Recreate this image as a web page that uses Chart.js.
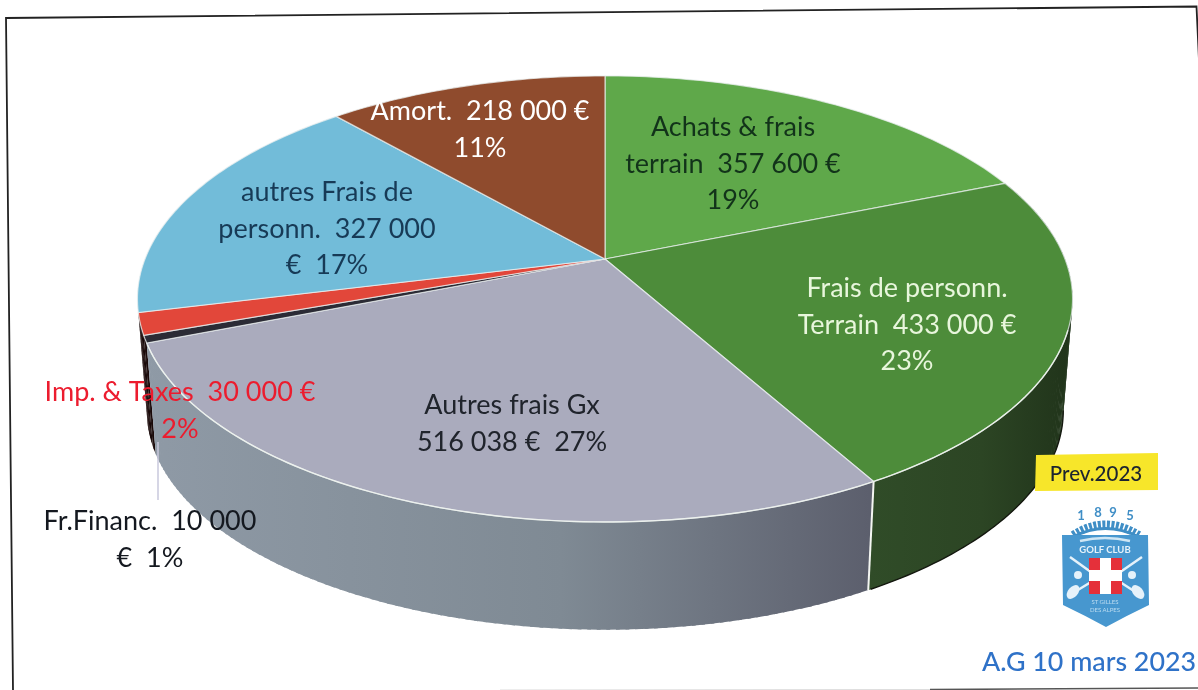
<!DOCTYPE html>
<html lang="fr">
<head>
<meta charset="utf-8">
<title>Prev. 2023</title>
<script src="https://cdn.jsdelivr.net/npm/chart.js@4"></script>
<style>
  html, body { margin: 0; padding: 0; background: #fff; overflow: hidden; }
  #page { position: relative; width: 1198px; height: 690px; filter: blur(0.45px); }
  #pie { position: absolute; left: 0; top: 0; }
  #deco { position: absolute; left: 0; top: 0; }
</style>
</head>
<body>
<div id="page">
  <canvas id="pie" width="1198" height="690"></canvas>
  <svg id="deco" width="1198" height="690" viewBox="0 0 1198 690" font-family="Lato, sans-serif">
    <!-- cadre scanne -->
    <path d="M1199 60 L1196.5 6.5 L6 18 L13 690" fill="none" stroke="#222" stroke-width="1.8"/>
    <path d="M930 689.5 L1198 688" fill="none" stroke="#555" stroke-width="1.6"/>
    <path d="M500 690 L930 689.5" fill="none" stroke="#ddd" stroke-width="1"/>
    <!-- etiquette -->
    <polygon points="1036,455 1158,453 1158,490 1035,491" fill="#f7e62a"/>
    <text x="1096" y="481" font-size="20.5" font-weight="500" text-anchor="middle" fill="#1c2430">Prev.2023</text>
    <!-- logo du club -->
    <g>
      <g font-size="13" font-weight="700" fill="#3f8ec6" text-anchor="middle">
        <text x="1081" y="520">1</text><text x="1098" y="517">8</text>
        <text x="1113" y="517">9</text><text x="1130" y="520">5</text>
      </g>
      <path d="M1073 535 Q1105 514 1139 535" fill="none" stroke="#3f8ec6" stroke-width="8" stroke-dasharray="3 1.5"/>
      <path d="M1073 537 Q1105 520 1139 537" fill="none" stroke="#3f8ec6" stroke-width="3"/>
      <path d="M1062 535 H1148 L1149 605 Q1128 615 1106 627 Q1084 615 1063 605 Z" fill="#4797cf"/>
      <path d="M1080 541 Q1105 535 1130 541" fill="none" stroke="#cfe6f4" stroke-width="2.5"/>
      <text x="1105" y="553" font-size="9.5" font-weight="700" fill="#e6f2fa" text-anchor="middle">GOLF CLUB</text>
      <path d="M1070 557 L1095 575 M1142 557 L1116 575 M1073 593 L1091 582 M1137 593 L1120 582" stroke="#e6f2fa" stroke-width="2.5"/>
      <circle cx="1078" cy="575" r="4" fill="#e6f2fa"/><circle cx="1132" cy="575" r="4" fill="#e6f2fa"/>
      <ellipse cx="1073" cy="592" rx="5" ry="8" fill="#e6f2fa" transform="rotate(40 1073 592)"/>
      <ellipse cx="1138" cy="592" rx="5" ry="8" fill="#e6f2fa" transform="rotate(-40 1138 592)"/>
      <rect x="1089" y="558" width="33" height="36" fill="#e5303a"/>
      <rect x="1100" y="558" width="11" height="36" fill="#fff"/>
      <rect x="1089" y="570" width="33" height="11" fill="#fff"/>
      <g font-size="6" fill="#bcdcf0" text-anchor="middle"><text x="1105" y="604">ST GILLES</text><text x="1105" y="612">DES ALPES</text></g>
    </g>
    <text x="982" y="671" font-size="26.8" font-weight="500" fill="#2f72c8">A.G 10 mars 2023</text>
  </svg>
</div>
<script>
// Donnees
const categories = ['Achats & frais terrain', 'Frais de personn. Terrain', 'Autres frais Gx', 'Fr.Financ.', 'Imp. & Taxes', 'autres Frais de personn.', 'Amort.'];
const montants = [357600, 433000, 516038, 10000, 30000, 327000, 218000];
const pourcents = [19, 23, 27, 1, 2, 17, 11];

// Texte des etiquettes, ligne par ligne
const etiquettes = [
  ['Achats & frais', 'terrain  357 600 €', '19%'],
  ['Frais de personn.', 'Terrain  433 000 €', '23%'],
  ['Autres frais Gx', '516 038 €  27%'],
  ['Fr.Financ.  10 000', '€  1%'],
  ['Imp. & Taxes  30 000 €', '2%'],
  ['autres Frais de', 'personn.  327 000', '€  17%'],
  ['Amort.  218 000 €', '11%']
];
const centresEtiquettes = [[733, 164], [907, 325], [512, 424], [150, 540], [180, 411], [327, 229], [480, 130]];
const couleursEtiquettes = ['#12331a', '#e8f6dc', '#20242c', '#14181f', '#ec1c2e', '#173a56', '#ffffff'];

const couleurs = ['#5fa84a', '#4d8c3a', '#aaabbd', '#2b2b35', '#e2473a', '#72bcd9', '#8f4b2d'];

// Projection en perspective du disque (le moteur donne les angles de chaque part)
const persp = { cx: 605, cy: 259, rx: 460, ry: 215.9, k: -0.179, bas: 0.98, profondeur: 113 };

function projette(angle, z) {
  const t = angle + Math.PI / 2;
  const u = Math.sin(t), v = -Math.cos(t);
  const d = 1 + persp.k * v;
  const s = z ? persp.bas : 1;
  return [persp.cx + s * persp.rx * u / d, persp.cy + (z ? persp.profondeur : 0) + s * persp.ry * v / d];
}

function degradeFlanc(ctx, i) {
  if (i === 3 || i === 4) return '#1a0a0a';
  const g = ctx.createLinearGradient(140, 0, 1075, 0);
  if (i === 1) {
    g.addColorStop(0.78, '#304c28'); g.addColorStop(0.9, '#2c4524'); g.addColorStop(1, '#20331a');
  } else {
    g.addColorStop(0, '#8f9aa6'); g.addColorStop(0.45, '#7f8a94'); g.addColorStop(0.78, '#5c5f6d');
  }
  return g;
}

const pie3d = {
  id: 'pie3d',
  beforeDatasetsDraw(chart) {
    const ctx = chart.ctx;
    const arcs = chart.getDatasetMeta(0).data;
    const pas = Math.PI / 180;

    // flancs visibles seulement : petits quads, le gris passe devant le noir
    [4, 3, 1, 2].forEach(i => {
      const arc = arcs[i];
      ctx.fillStyle = degradeFlanc(ctx, i);
      for (let a = arc.startAngle; a < arc.endAngle; a += pas) {
        const e = Math.min(a + pas * 1.4, arc.endAngle);
        const p1 = projette(a, false), p2 = projette(e, false), p3 = projette(e, true), p4 = projette(a, true);
        ctx.beginPath();
        ctx.moveTo(p1[0], p1[1]); ctx.lineTo(p2[0], p2[1]); ctx.lineTo(p3[0], p3[1]); ctx.lineTo(p4[0], p4[1]);
        ctx.closePath();
        ctx.fill();
      }
    });

    // contour noir du flanc, cote droit
    ctx.strokeStyle = '#14180f';
    ctx.lineWidth = 1.4;
    ctx.beginPath();
    const deb = arcs[1].startAngle + 0.56;
    for (let a = deb; a <= arcs[1].endAngle; a += pas) {
      const p = projette(a, true);
      if (a === deb) ctx.moveTo(p[0], p[1]); else ctx.lineTo(p[0], p[1]);
    }
    ctx.stroke();

    // arete blanche entre gris et vert sur le flanc
    const h = projette(arcs[1].endAngle, false), b = projette(arcs[1].endAngle, true);
    ctx.strokeStyle = '#f4f6f2';
    ctx.lineWidth = 2;
    ctx.beginPath(); ctx.moveTo(h[0], h[1]); ctx.lineTo(b[0], b[1]); ctx.stroke();

    // dessus : une part par valeur
    arcs.forEach((arc, i) => {
      ctx.fillStyle = couleurs[i];
      ctx.beginPath();
      ctx.moveTo(persp.cx, persp.cy);
      for (let a = arc.startAngle; a < arc.endAngle; a += pas) {
        const p = projette(a, false);
        ctx.lineTo(p[0], p[1]);
      }
      const q = projette(arc.endAngle, false);
      ctx.lineTo(q[0], q[1]);
      ctx.closePath();
      ctx.fill();
      ctx.strokeStyle = 'rgba(235,240,240,0.75)';
      ctx.lineWidth = 1.2;
      ctx.stroke();
    });

    // reflet clair sur le bord avant
    ctx.strokeStyle = 'rgba(240,245,240,0.85)';
    ctx.lineWidth = 1.4;
    ctx.beginPath();
    const debReflet = arcs[1].startAngle + 0.7;
    for (let a = debReflet; a < arcs[2].endAngle; a += pas) {
      const p = projette(a, false);
      if (a === debReflet) ctx.moveTo(p[0], p[1]); else ctx.lineTo(p[0], p[1]);
    }
    ctx.stroke();
    return false;
  },
  afterDraw(chart) {
    const ctx = chart.ctx;
    // trait de rappel vers Fr.Financ.
    ctx.strokeStyle = '#c9c9dc';
    ctx.lineWidth = 1.5;
    ctx.beginPath(); ctx.moveTo(158, 442); ctx.lineTo(158, 500); ctx.stroke();

    ctx.textAlign = 'center';
    ctx.textBaseline = 'middle';
    ctx.font = '27px Lato, sans-serif';
    etiquettes.forEach((lignes, i) => {
      const [x, y] = centresEtiquettes[i];
      ctx.fillStyle = couleursEtiquettes[i];
      lignes.forEach((t, n) => ctx.fillText(t, x, y + (n - (lignes.length - 1) / 2) * 36.5));
    });
  }
};

new Chart(document.getElementById('pie').getContext('2d'), {
  type: 'pie',
  data: {
    labels: categories,
    datasets: [{ label: 'Prev.2023', data: montants, backgroundColor: couleurs, borderWidth: 0 }]
  },
  options: {
    responsive: false,
    animation: false,
    plugins: { legend: { display: false }, tooltip: { enabled: false } }
  },
  plugins: [pie3d]
});
</script>
</body>
</html>
